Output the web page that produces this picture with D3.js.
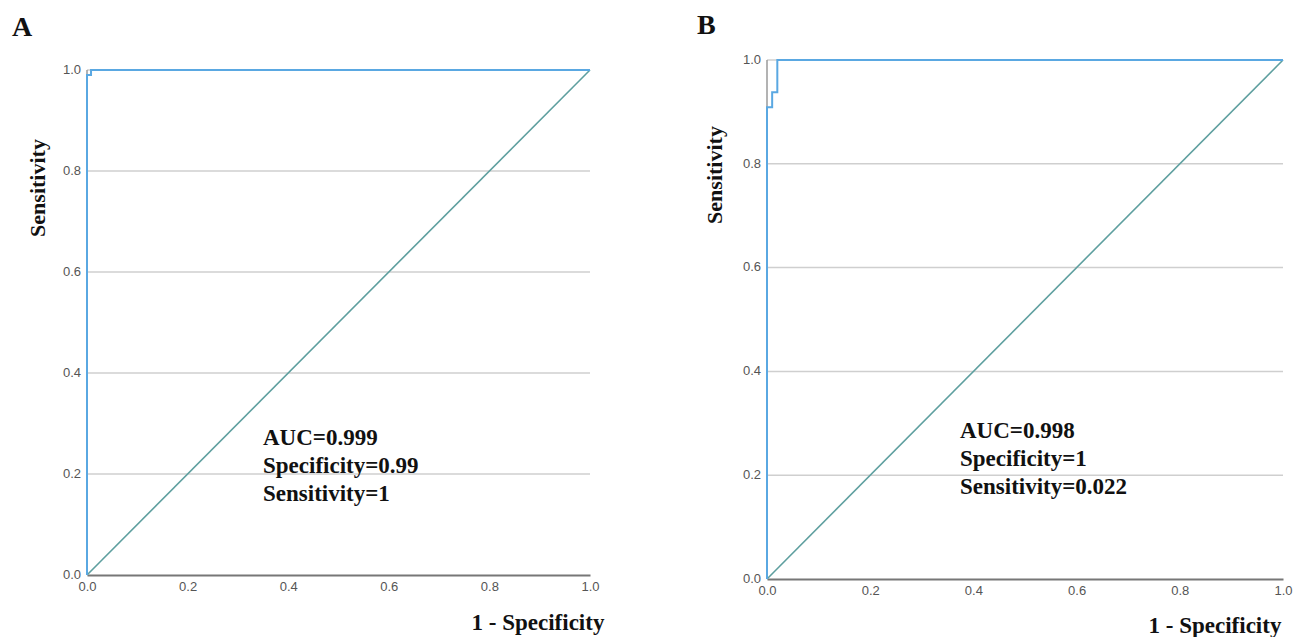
<!DOCTYPE html>
<html>
<head>
<meta charset="utf-8">
<script src="https://cdn.jsdelivr.net/npm/d3@7/dist/d3.min.js"></script>
<style>
body{margin:0;background:#fff;}
.tick text{font-family:"Liberation Sans",Arial,sans-serif;font-size:13px;fill:#555;}
.ttl{font-family:"Liberation Serif","Times New Roman",serif;font-weight:bold;fill:#111;}
</style>
</head>
<body>
<div id="chart"></div>
<script>
var W=1299, H=637;

var ticks=[0,0.2,0.4,0.6,0.8,1.0];

// panel A roc curve
var fprA=[0,0,0.008,0.008,1];
var tprA=[0,0.99,0.99,1,1];
var notesA=["AUC=0.999","Specificity=0.99","Sensitivity=1"];

// panel B roc curve
var fprB=[0,0,0.01,0.01,0.02,0.02,1];
var tprB=[0,0.909,0.909,0.938,0.938,1,1];
var notesB=["AUC=0.998","Specificity=1","Sensitivity=0.022"];

var panels=[
  {label:"A",fpr:fprA,tpr:tprA,notes:notesA,x0:87,x1:590,y0:575,y1:70,lx:12,ly:36,
   ytx:45,yty:188,xtx:538,xty:630,nx:263,ny:445},
  {label:"B",fpr:fprB,tpr:tprB,notes:notesB,x0:767,x1:1283,y0:579,y1:60,lx:697,ly:34,
   ytx:722,yty:175,xtx:1215,xty:633,nx:960,ny:438}
];

var svg=d3.select("#chart").append("svg").attr("width",W).attr("height",H);

panels.forEach(function(p){
  var x=d3.scaleLinear().domain([0,1]).range([p.x0,p.x1]);
  var y=d3.scaleLinear().domain([0,1]).range([p.y0,p.y1]);
  var g=svg.append("g");

  // grid
  g.selectAll("line.grid").data(ticks.slice(1)).enter().append("line")
    .attr("x1",p.x0).attr("x2",p.x1)
    .attr("y1",function(d){return y(d);}).attr("y2",function(d){return y(d);})
    .attr("stroke","#cfcfcf").attr("stroke-width",1.5);

  // y axis line
  g.append("line").attr("x1",p.x0).attr("x2",p.x0).attr("y1",p.y0).attr("y2",p.y1)
    .attr("stroke","#9a9a9a").attr("stroke-width",1.5);

  // x axis
  var xa=g.append("g").attr("transform","translate(0,"+p.y0+")")
    .call(d3.axisBottom(x).tickValues(ticks).tickFormat(d3.format(".1f")).tickSize(0).tickPadding(7));
  xa.select(".domain").attr("stroke","#777").attr("stroke-width",2);

  var ya=g.append("g").attr("transform","translate("+p.x0+",0)")
    .call(d3.axisLeft(y).tickValues(ticks).tickFormat(d3.format(".1f")).tickSize(0).tickPadding(6));
  ya.select(".domain").remove();
  ya.selectAll(".tick text").attr("dy","0.25em");

  // reference diagonal
  g.append("line").attr("x1",x(0)).attr("y1",y(0)).attr("x2",x(1)).attr("y2",y(1))
    .attr("stroke","#5e9f9f").attr("stroke-width",1.6);

  // roc curve
  var pts=p.fpr.map(function(d,i){return [d,p.tpr[i]];});
  g.append("path").datum(pts)
    .attr("d",d3.line().x(function(d){return x(d[0]);}).y(function(d){return y(d[1]);}))
    .attr("fill","none").attr("stroke","#5aa8e2").attr("stroke-width",2);

  // titles
  g.append("text").attr("class","ttl").attr("x",p.lx).attr("y",p.ly)
    .style("font-size","28px").text(p.label);
  g.append("text").attr("class","ttl")
    .attr("transform","translate("+p.ytx+","+p.yty+") rotate(-90)")
    .attr("text-anchor","middle").style("font-size","22px").text("Sensitivity");
  g.append("text").attr("class","ttl").attr("x",p.xtx).attr("y",p.xty)
    .attr("text-anchor","middle").style("font-size","23px").text("1 - Specificity");

  g.selectAll("text.note").data(p.notes).enter().append("text").attr("class","ttl")
    .attr("x",p.nx).attr("y",function(d,i){return p.ny+i*28;})
    .style("font-size","23px").text(function(d){return d;});
});
</script>
</body>
</html>
